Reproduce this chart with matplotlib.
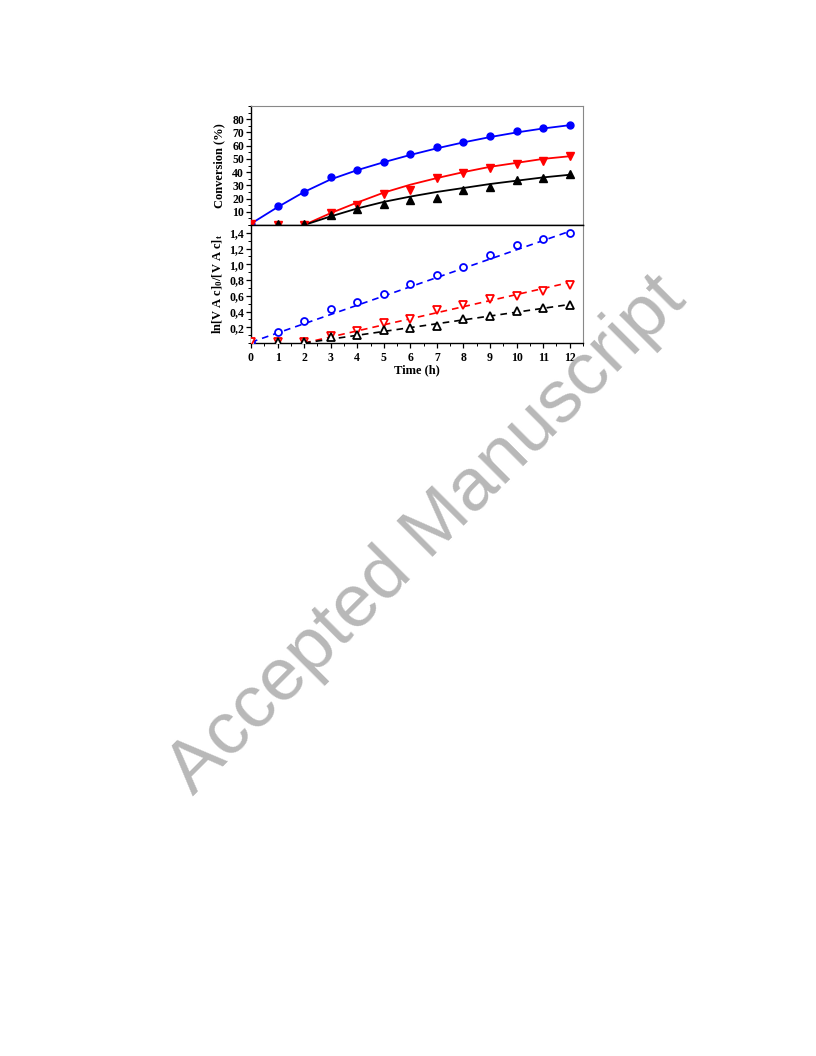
import matplotlib
matplotlib.use("Agg")
import matplotlib.pyplot as plt
from matplotlib.ticker import MultipleLocator, FixedLocator, FuncFormatter

plt.rcParams['font.family'] = ['Liberation Serif', 'DejaVu Serif']
plt.rcParams['font.weight'] = 'bold'
plt.rcParams['mathtext.fontset'] = 'custom'
plt.rcParams['mathtext.rm'] = 'Liberation Serif:bold'
plt.rcParams['mathtext.it'] = 'Liberation Serif:bold'
plt.rcParams['mathtext.bf'] = 'Liberation Serif:bold'

time = [0, 1, 2, 3, 4, 5, 6, 7, 8, 9, 10, 11, 12]

# Top panel: conversion (%)
conv_blue = [1, 14.3, 25.2, 36, 41.3, 47.4, 53.4, 58.7, 62.5, 67.3, 71.4, 73.4, 75.4]
conv_red = [0.5, 0.3, 0.3, 9.2, 14.8, 23.1, 26.4, 35.3, 39.6, 43.4, 45.9, 48.1, 52.2]
conv_black = [None, 0.8, 0.8, 7.2, 11.8, 16, 18.8, 20.6, 26.1, 29, 33.7, 35.8, 38.5]

fit_blue = [1, 13.5, 25, 34.5, 41.5, 47.5, 53, 58, 62.5, 66.5, 70, 73, 75.5]
fit_time_rb = [2, 3, 4, 5, 6, 7, 8, 9, 10, 11, 12]
fit_red = [0, 9, 17, 24.5, 30.5, 35.5, 40, 44, 47, 50, 52]
fit_black = [0, 6.5, 12.5, 17.5, 21.5, 25, 28, 31, 33.5, 36, 38]

# Bottom panel: ln[VAc]0/[VAc]t
ln_blue = [0.01, 0.145, 0.285, 0.437, 0.526, 0.628, 0.747, 0.87, 0.971, 1.12, 1.251, 1.319, 1.40]
ln_red = [0.01, 0.01, 0.01, 0.085, 0.158, 0.255, 0.30, 0.425, 0.488, 0.56, 0.60, 0.66, 0.735]
ln_black = [None, 0.01, 0.01, 0.073, 0.107, 0.17, 0.19, 0.22, 0.30, 0.34, 0.408, 0.44, 0.48]

lin_blue_x = [0, 12]
lin_blue_y = [0.01, 1.42]
lin_red_x = [2, 12]
lin_red_y = [0.0, 0.77]
lin_black_x = [2, 12]
lin_black_y = [0.0, 0.49]

fig = plt.figure(figsize=(8.16, 10.56), dpi=100)
L, R = 251 / 816, 583 / 816
ax1 = fig.add_axes([L, 1 - 225 / 1056, R - L, (225 - 106) / 1056])
ax2 = fig.add_axes([L, 1 - 343 / 1056, R - L, (343 - 225) / 1056])

def clean(xs, ys):
    pts = [(x, y) for x, y in zip(xs, ys) if y is not None]
    return [p[0] for p in pts], [p[1] for p in pts]

ms = 5
# top
ax1.plot(time, fit_blue, '-', color='#0000ff', lw=1.3, zorder=2)
ax1.plot(fit_time_rb, fit_red, '-', color='#ff0000', lw=1.3, zorder=2)
ax1.plot(fit_time_rb, fit_black, '-', color='black', lw=1.3, zorder=2)
ax1.plot(*clean(time, conv_blue), 'o', color='#0000ff', ms=ms, zorder=3)
ax1.plot(*clean(time, conv_red), 'v', color='#ff0000', ms=ms + 0.5, zorder=3)
ax1.plot(*clean(time, conv_black), '^', color='black', ms=ms + 0.5, zorder=4)

# bottom
dash = (0, (4, 3))
ax2.plot(lin_blue_x, lin_blue_y, linestyle=dash, color='#0000ff', lw=1.2, zorder=2)
ax2.plot(lin_red_x, lin_red_y, linestyle=dash, color='#ff0000', lw=1.2, zorder=2)
ax2.plot(lin_black_x, lin_black_y, linestyle=dash, color='black', lw=1.2, zorder=2)
ax2.plot(*clean(time, ln_blue), 'o', mfc='white', mec='#0000ff', mew=1.3, ms=ms, ls='none', zorder=3)
ax2.plot(*clean(time, ln_red), 'v', mfc='white', mec='#ff0000', mew=1.3, ms=ms + 0.5, ls='none', zorder=3)
ax2.plot(*clean(time, ln_black), '^', mfc='white', mec='black', mew=1.3, ms=ms + 0.5, ls='none', zorder=4)

for ax in (ax1, ax2):
    ax.set_xlim(0, 12.5)
    for s in ('top', 'right'):
        ax.spines[s].set_color('#888888')
        ax.spines[s].set_linewidth(0.8)
    ax.spines['left'].set_linewidth(1.0)
    ax.spines['bottom'].set_linewidth(1.0)
    ax.tick_params(axis='y', which='major', direction='out', length=3.5, width=0.9, labelsize=8.5, pad=1.5)
    ax.tick_params(axis='y', which='minor', direction='out', length=2, width=0.7)
    ax.tick_params(axis='x', which='major', direction='out', length=3.5, width=0.9, labelsize=8.5, pad=3)
    ax.tick_params(axis='x', which='minor', direction='out', length=2, width=0.7)

ax1.spines['bottom'].set_color('black')
ax2.spines['top'].set_color('black')
ax2.spines['top'].set_linewidth(1.0)

ax1.set_ylim(0, 90)
ax1.yaxis.set_major_locator(FixedLocator([10, 20, 30, 40, 50, 60, 70, 80]))
ax1.yaxis.set_minor_locator(MultipleLocator(5))
ax1.set_xticks([])
ax1.tick_params(axis='x', which='both', bottom=False, labelbottom=False)
ax1.set_ylabel('Conversion (%)', fontsize=9, fontweight='bold')

ax2.set_ylim(0, 1.5)
ax2.yaxis.set_major_locator(FixedLocator([0.2, 0.4, 0.6, 0.8, 1.0, 1.2, 1.4]))
ax2.yaxis.set_minor_locator(MultipleLocator(0.1))
ax2.yaxis.set_major_formatter(FuncFormatter(lambda v, p: f'{v:.1f}'.replace('.', ',')))
ax2.set_xticks(time)
ax2.xaxis.set_minor_locator(MultipleLocator(0.5))
ax2.set_xlabel('Time (h)', fontsize=9, fontweight='bold', labelpad=0.5)
ax2.set_ylabel(r'ln[V A c]$_0$/[V A c]$_\mathrm{t}$', fontsize=9, fontweight='bold')

for ax in (ax1, ax2):
    for lab in ax.get_xticklabels() + ax.get_yticklabels():
        lab.set_fontweight('bold')

ax1.yaxis.set_label_coords(-0.078, 0.5)
ax2.yaxis.set_label_coords(-0.078, 0.5)

fig.text(0.523, 0.4935, 'Accepted Manuscript', rotation=45, ha='center', va='center',
         rotation_mode='anchor', fontsize=54, color='#b8b8b8',
         family=['Liberation Sans', 'DejaVu Sans'], fontweight='normal', zorder=10)

fig.savefig('out.png', dpi=100)
